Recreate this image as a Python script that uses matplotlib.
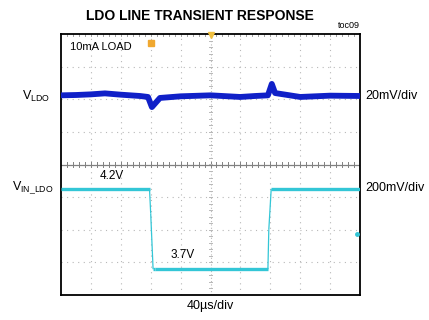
import matplotlib
matplotlib.use("Agg")
import matplotlib.pyplot as plt
from matplotlib.collections import LineCollection
import numpy as np

plt.rcParams['font.family'] = ['Liberation Sans Narrow', 'Liberation Sans', 'DejaVu Sans']

# Screen coordinates in divisions (10 x 8 grid, centre = 0)
vldo_t = [0.0, 0.5, 1.0, 1.47, 2.0, 2.64, 2.91, 3.04, 3.31, 4.0, 5.0, 5.99, 6.5, 6.92, 7.05, 7.16, 8.0, 9.0, 10.0]
vldo_v = [2.12, 2.13, 2.15, 2.18, 2.14, 2.10, 2.07, 1.76, 2.04, 2.09, 2.12, 2.07, 2.10, 2.12, 2.47, 2.19, 2.07, 2.11, 2.10]

vin_t = [0.0, 2.96, 3.0, 3.08, 3.14, 6.92, 6.95, 7.03, 10.0]
vin_v = [-0.75, -0.75, -1.5, -3.21, -3.21, -3.21, -2.0, -0.75, -0.75]

stray_t = [9.9]
stray_v = [-2.13]

fig = plt.figure(figsize=(4.29, 3.20), dpi=100)
ax = fig.add_axes([61/429, 1-295/320, 299/429, 261/320])
ax.set_xlim(0, 10)
ax.set_ylim(-4, 4)
ax.set_xticks([]); ax.set_yticks([])
for s in ax.spines.values():
    s.set_linewidth(1.3)
    s.set_color('black')

grid_c = '#b8b8b8'
for i in range(1, 10):
    if i != 5:
        ax.axvline(i, color=grid_c, lw=0.8, ls=(0, (1, 4)), zorder=1)
for j in range(-3, 4):
    if j != 0:
        ax.axhline(j, color=grid_c, lw=0.8, ls=(0, (1, 4)), zorder=1)
ax.axvline(5, color=grid_c, lw=0.8, ls=(0, (1, 2)), zorder=1)
ax.axhline(0, color='#808080', lw=0.9, zorder=1)
# minor ticks on centre lines and top border
for k in np.arange(0.2, 10, 0.2):
    ax.plot([k, k], [-0.07, 0.07], color='#808080', lw=0.7, zorder=1)
    ax.plot([k, k], [3.93, 4.0], color='#a0a0a0', lw=0.7, zorder=1)
for k in np.arange(-3.8, 4, 0.2):
    ax.plot([4.96, 5.04], [k, k], color=grid_c, lw=0.7, zorder=1)

ax.plot(vldo_t, vldo_v, color='#1020c8', lw=4.2, solid_joinstyle='round', zorder=3)

pts = np.column_stack([vin_t, vin_v])
segs = np.stack([pts[:-1], pts[1:]], axis=1)
widths = [0.9 if abs(b[1] - a[1]) > 0.3 else 2.4 for a, b in zip(pts[:-1], pts[1:])]
ax.add_collection(LineCollection(segs, colors='#33c6d6', linewidths=widths, zorder=3,
                                 capstyle='butt'))
ax.plot(stray_t, stray_v, 'o', color='#33c6d6', ms=2.5, zorder=3)

# trigger markers
ax.plot([3.0], [3.72], marker='s', color='#f0a830', ms=4.5, zorder=4, clip_on=False)
ax.plot([5.0], [3.97], marker='v', color='#f0c040', ms=4, zorder=4, clip_on=False)

ax.text(0.3, 3.6, '10mA LOAD', fontsize=8, va='center', ha='left')
ax.text(1.3, -0.36, '4.2V', fontsize=8.5, va='center', ha='left')
ax.text(3.65, -2.78, '3.7V', fontsize=8.5, va='center', ha='left')

fig.text(200/429, 1-16/320, 'LDO LINE TRANSIENT RESPONSE', fontsize=10, fontweight='bold', ha='center', va='center')
fig.text(349/429, 1-25/320, 'toc09', fontsize=6.5, ha='center', va='center')
fig.text(36/429, 1-96/320, r'V$_{\mathregular{LDO}}$', fontsize=9, ha='center', va='center')
fig.text(33/429, 1-188/320, r'V$_{\mathregular{IN\_LDO}}$', fontsize=9, ha='center', va='center')
fig.text(365/429, 1-96/320, '20mV/div', fontsize=9, ha='left', va='center')
fig.text(365/429, 1-188/320, '200mV/div', fontsize=9, ha='left', va='center')
fig.text(210/429, 1-306/320, '40\u00b5s/div', fontsize=9, ha='center', va='center')

fig.savefig('out.png', dpi=100)
